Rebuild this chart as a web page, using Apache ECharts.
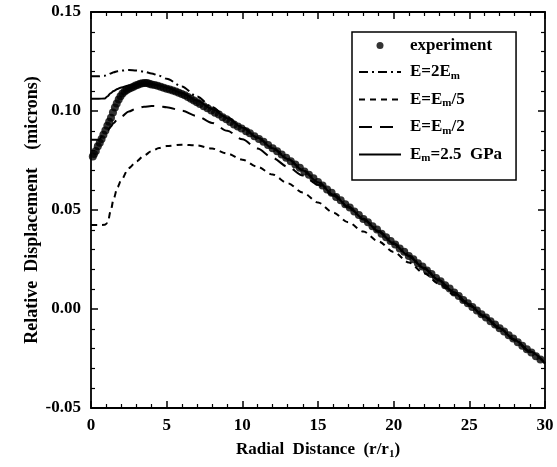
<!DOCTYPE html>
<html>
<head>
<meta charset="utf-8">
<script src="https://cdn.jsdelivr.net/npm/echarts@6/dist/echarts.min.js"></script>
<style>
  html, body { margin: 0; padding: 0; background: #fff; }
  #chart { width: 557px; height: 467px; }
</style>
</head>
<body>
<div id="chart"></div>
<script>
// model curves share one x grid (r/r1)
var xModel = [0, 0.5, 0.9, 1.1, 1.3, 1.5, 1.75, 2, 2.5, 3, 3.5, 4, 4.5, 5, 6, 7, 8, 9, 10, 11, 12, 13, 14, 15, 16, 17, 18, 19, 20, 21, 22, 23, 24, 25, 26, 27, 28, 29, 30]

// E = Em = 2.5 GPa (solid)
var yEm = [0.1062, 0.1062, 0.1063, 0.1075, 0.1090, 0.1101, 0.1111, 0.1119, 0.1129, 0.1135, 0.1138, 0.1136, 0.1129, 0.1119, 0.1091, 0.1053, 0.1010, 0.0964, 0.0916, 0.0865, 0.0812, 0.0757, 0.0700, 0.0640, 0.0578, 0.0516, 0.0454, 0.0392, 0.0330, 0.0268, 0.0206, 0.0144, 0.0082, 0.0022, -0.0038, -0.0097, -0.0156, -0.0215, -0.0274]

// E = 2Em (dash-dot)
var y2Em = [0.1175, 0.1175, 0.1178, 0.1183, 0.1190, 0.1196, 0.1201, 0.1204, 0.1207, 0.1205, 0.1199, 0.1190, 0.1178, 0.1163, 0.1124, 0.1073, 0.1020, 0.0968, 0.0919, 0.0867, 0.0814, 0.0759, 0.0702, 0.0642, 0.0580, 0.0518, 0.0456, 0.0394, 0.0332, 0.0270, 0.0208, 0.0146, 0.0084, 0.0024, -0.0036, -0.0095, -0.0154, -0.0213, -0.0272]

// E = Em/5 (short dash)
var yEm5 = [0.0424, 0.0424, 0.0425, 0.0435, 0.0495, 0.0558, 0.0615, 0.0652, 0.0712, 0.0745, 0.0775, 0.0797, 0.0813, 0.0823, 0.0830, 0.0826, 0.0810, 0.0785, 0.0754, 0.0718, 0.0679, 0.0635, 0.0588, 0.0538, 0.0487, 0.0438, 0.0391, 0.0341, 0.0288, 0.0235, 0.0181, 0.0127, 0.0072, 0.0017, -0.0040, -0.0097, -0.0155, -0.0213, -0.0272]

// E = Em/2 (long dash)
var yEm2 = [0.0855, 0.0855, 0.0885, 0.0902, 0.0920, 0.0940, 0.0958, 0.0972, 0.0998, 0.1012, 0.1021, 0.1025, 0.1024, 0.1019, 0.1002, 0.0975, 0.0940, 0.0900, 0.0857, 0.0810, 0.0763, 0.0718, 0.0674, 0.0628, 0.0573, 0.0513, 0.0452, 0.0390, 0.0328, 0.0266, 0.0204, 0.0142, 0.0080, 0.0020, -0.0040, -0.0099, -0.0158, -0.0217, -0.0276]

// measured points
var xExp = [0.12, 0.2, 0.32, 0.45, 0.58, 0.7, 0.82, 0.95, 1.08, 1.2, 1.32, 1.45, 1.58, 1.7, 1.83, 1.95, 2.08, 2.22, 2.36, 2.5, 2.65, 2.8, 2.95, 3.1, 3.25, 3.4, 3.55, 3.7, 3.85, 4.0, 4.2, 4.4, 4.6, 4.8, 5.0, 5.2, 5.4, 5.6, 5.8, 6.0, 6.2, 6.4, 6.6, 6.8, 7.0, 7.2, 7.45, 7.7, 7.95, 8.2, 8.45, 8.7, 8.95, 9.2, 9.45, 9.7, 9.95, 10.25, 10.5, 10.8, 11.1, 11.4, 11.7, 12.0, 12.3, 12.6, 12.9, 13.2, 13.5, 13.8, 14.1, 14.4, 14.7, 15.0, 15.3, 15.6, 15.9, 16.2, 16.5, 16.8, 17.1, 17.4, 17.7, 18.0, 18.3, 18.6, 18.9, 19.2, 19.5, 19.8, 20.1, 20.4, 20.7, 21.0, 21.3, 21.6, 21.9, 22.2, 22.5, 22.8, 23.1, 23.4, 23.7, 24.0, 24.3, 24.6, 24.9, 25.2, 25.5, 25.8, 26.1, 26.4, 26.7, 27.0, 27.3, 27.6, 27.9, 28.2, 28.5, 28.8, 29.1, 29.4, 29.7]
var yExp = [0.0770, 0.0783, 0.0798, 0.0822, 0.0840, 0.0858, 0.0880, 0.0902, 0.0925, 0.0946, 0.0966, 0.0993, 0.1018, 0.1038, 0.1058, 0.1075, 0.1088, 0.1099, 0.1106, 0.1112, 0.1118, 0.1123, 0.1129, 0.1133, 0.1137, 0.1140, 0.1142, 0.1141, 0.1137, 0.1134, 0.1131, 0.1127, 0.1123, 0.1118, 0.1113, 0.1108, 0.1104, 0.1098, 0.1092, 0.1086, 0.1079, 0.1071, 0.1062, 0.1053, 0.1044, 0.1035, 0.1024, 0.1014, 0.1003, 0.0991, 0.0982, 0.0968, 0.0958, 0.0945, 0.0932, 0.0922, 0.0911, 0.0898, 0.0887, 0.0872, 0.0858, 0.0845, 0.0828, 0.0812, 0.0797, 0.0780, 0.0764, 0.0746, 0.0730, 0.0713, 0.0695, 0.0678, 0.0660, 0.0641, 0.0624, 0.0604, 0.0587, 0.0566, 0.0549, 0.0529, 0.0512, 0.0492, 0.0475, 0.0455, 0.0438, 0.0418, 0.0401, 0.0380, 0.0363, 0.0343, 0.0326, 0.0305, 0.0289, 0.0268, 0.0251, 0.0231, 0.0215, 0.0194, 0.0177, 0.0157, 0.0140, 0.0120, 0.0103, 0.0083, 0.0066, 0.0046, 0.0029, 0.0010, -0.0007, -0.0026, -0.0043, -0.0062, -0.0078, -0.0097, -0.0114, -0.0133, -0.0149, -0.0168, -0.0185, -0.0203, -0.0220, -0.0239, -0.0255]

var xTicks = [0, 5, 10, 15, 20, 25, 30]
var yTicks = [-0.05, 0, 0.05, 0.10, 0.15]

var seriesNames = ['experiment', 'E=2Em', 'E=Em/5', 'E=Em/2', 'Em=2.5 GPa']

function pairs (xs, ys) {
  return xs.map(function (x, i) { return [x, ys[i]] })
}

var font = 'Liberation Serif'
var black = '#000'

var legendRich = {
  t: { fontFamily: font, fontWeight: 'bold', fontSize: 17, color: black, lineHeight: 20 },
  s: { fontFamily: font, fontWeight: 'bold', fontSize: 11, color: black, lineHeight: 20, padding: [8, 0, 0, 0] }
}
var legendLabels = {
  'experiment': '{t|experiment}',
  'E=2Em': '{t|E=2E}{s|m}',
  'E=Em/5': '{t|E=E}{s|m}{t|/5}',
  'E=Em/2': '{t|E=E}{s|m}{t|/2}',
  'Em=2.5 GPa': '{t|E}{s|m}{t|=2.5  GPa}'
}

function modelLine (name, ys, dash) {
  return {
    name: name,
    type: 'line',
    data: pairs(xModel, ys),
    symbol: 'none',
    smooth: 0.3,
    smoothMonotone: 'x',
    lineStyle: { color: black, width: 2, type: dash },
    itemStyle: { color: black }
  }
}

// fresh axis object each time, ticks point into the plot
function makeAxis (extra) {
  return Object.assign({
    type: 'value',
    axisLine: { show: true, onZero: false, lineStyle: { color: black, width: 1.8 } },
    axisTick: { show: true, inside: true, length: 7, lineStyle: { color: black, width: 1.5 } },
    minorTick: { show: true, splitNumber: 5, length: 4, lineStyle: { color: black, width: 1.2 } },
    splitLine: { show: false }
  }, extra)
}

// legend entries; line icons show only the stroke
var legendData = seriesNames.map(function (n, i) {
  return i === 0 ? { name: n } : { name: n, itemStyle: { opacity: 0 } }
})

var myChart = echarts.init(document.getElementById('chart'))
var option = {
  animation: false,
  grid: { left: 91, right: 12, top: 12, bottom: 59 },
  legend: {
    data: legendData,
    orient: 'vertical',
    left: 352,
    top: 32,
    itemWidth: 42,
    itemHeight: 7,
    itemGap: 8.5,
    padding: [5, 14, 16, 6],
    borderColor: black,
    borderWidth: 1.5,
    backgroundColor: '#fff',
    inactiveColor: black,
    formatter: function (name) { return legendLabels[name] },
    textStyle: { fontFamily: font, fontWeight: 'bold', fontSize: 17, color: black, padding: [0, 0, 0, 4], rich: legendRich }
  },
  xAxis: [
    makeAxis({
      min: xTicks[0],
      max: xTicks[xTicks.length - 1],
      interval: xTicks[1] - xTicks[0],
      position: 'bottom',
      name: '{t|Radial  Distance  (r/r}{s|1}{t|)}',
      nameLocation: 'middle',
      nameGap: 28,
      nameTextStyle: {
        rich: {
          t: { fontFamily: font, fontWeight: 'bold', fontSize: 17, color: black, lineHeight: 20 },
          s: { fontFamily: font, fontWeight: 'bold', fontSize: 11, color: black, lineHeight: 20, padding: [10, 0, 0, 0] }
        }
      },
      axisLabel: { margin: 9, fontFamily: font, fontWeight: 'bold', fontSize: 17, color: black }
    }),
    makeAxis({
      min: xTicks[0],
      max: xTicks[xTicks.length - 1],
      interval: xTicks[1] - xTicks[0],
      position: 'top',
      axisLabel: { show: false }
    })
  ],
  yAxis: [
    makeAxis({
      min: yTicks[0],
      max: yTicks[yTicks.length - 1],
      interval: yTicks[2] - yTicks[1],
      position: 'left',
      name: 'Relative  Displacement    (microns)',
      nameLocation: 'middle',
      nameGap: 50,
      nameMoveOverlap: false,
      nameTextStyle: { fontFamily: font, fontWeight: 'bold', fontSize: 18, color: black },
      axisLabel: {
        margin: 10,
        fontFamily: font,
        fontWeight: 'bold',
        fontSize: 17,
        color: black,
        formatter: function (v) { return v.toFixed(2) }
      }
    }),
    makeAxis({
      min: yTicks[0],
      max: yTicks[yTicks.length - 1],
      interval: yTicks[2] - yTicks[1],
      position: 'right',
      axisLabel: { show: false }
    })
  ],
  series: [
    {
      name: 'experiment',
      type: 'scatter',
      data: pairs(xExp, yExp),
      symbol: 'circle',
      symbolSize: 8,
      itemStyle: { color: black }
    },
    modelLine('E=2Em', y2Em, [9, 4, 2, 4]),
    modelLine('E=Em/5', yEm5, [6, 5]),
    modelLine('E=Em/2', yEm2, [13, 8]),
    modelLine('Em=2.5 GPa', yEm, 'solid')
  ]
}
myChart.setOption(option, true)
</script>
</body>
</html>
